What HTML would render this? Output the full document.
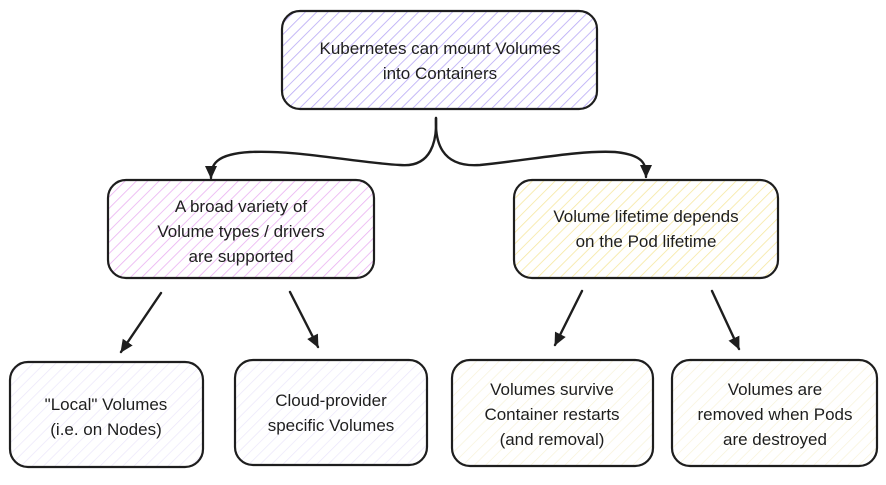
<!DOCTYPE html>
<html><head><meta charset="utf-8"><style>
html,body{margin:0;padding:0;background:#fff;}
svg text{font-family:"Liberation Sans",sans-serif;font-size:17px;fill:#1e1e1e;text-anchor:middle;}
</style></head><body>
<svg width="886" height="480" viewBox="0 0 886 480" xmlns="http://www.w3.org/2000/svg">
<defs>
<pattern id="pu" width="8" height="8" patternUnits="userSpaceOnUse" patternTransform="rotate(45)"><line x1="0" y1="0" x2="0" y2="8" stroke="#b7a8f5" stroke-width="1.6"/></pattern>
<pattern id="pk" width="8" height="8" patternUnits="userSpaceOnUse" patternTransform="rotate(45)"><line x1="0" y1="0" x2="0" y2="8" stroke="#eab0f2" stroke-width="1.6"/></pattern>
<pattern id="ye" width="8" height="8" patternUnits="userSpaceOnUse" patternTransform="rotate(45)"><line x1="0" y1="0" x2="0" y2="8" stroke="#f6e7a0" stroke-width="1.6"/></pattern>
<pattern id="fpu" width="8" height="8" patternUnits="userSpaceOnUse" patternTransform="rotate(45)"><line x1="0" y1="0" x2="0" y2="8" stroke="#ebe6fa" stroke-width="1.4"/></pattern>
<pattern id="fye" width="8" height="8" patternUnits="userSpaceOnUse" patternTransform="rotate(45)"><line x1="0" y1="0" x2="0" y2="8" stroke="#f7f2d8" stroke-width="1.4"/></pattern>
<marker id="ah" markerWidth="14" markerHeight="12" refX="12" refY="6" orient="auto" markerUnits="userSpaceOnUse"><polygon points="0,0 13,6 0,12" fill="#1e1e1e"/></marker>
</defs>
<g stroke="#1e1e1e" stroke-width="2.2">
<rect x="282" y="11" width="315" height="98" rx="18" fill="url(#pu)"/>
<rect x="108" y="180" width="266" height="98" rx="18" fill="url(#pk)"/>
<rect x="514" y="180" width="264" height="98" rx="18" fill="url(#ye)"/>
<rect x="10" y="362" width="193" height="105" rx="18" fill="url(#fpu)"/>
<rect x="235" y="360" width="192" height="105" rx="18" fill="url(#fpu)"/>
<rect x="452" y="360" width="201" height="106" rx="18" fill="url(#fye)"/>
<rect x="672" y="360" width="205" height="106" rx="18" fill="url(#fye)"/>
</g>
<g stroke="#1e1e1e" stroke-width="2.4" fill="none" stroke-linecap="round">
<path d="M436 118 C437 140 432 168 400 165 C350 162 300 150 250 152 C215 154 211 165 211 178" marker-end="url(#ah)"/>
<path d="M436 118 C435 140 440 168 480 165 C530 160 580 150 615 152 C645 155 646 165 646 177" marker-end="url(#ah)"/>
<path d="M161 293 L121 352" marker-end="url(#ah)"/>
<path d="M290 292 L318 347" marker-end="url(#ah)"/>
<path d="M582 291 L555 345" marker-end="url(#ah)"/>
<path d="M712 291 L739 349" marker-end="url(#ah)"/>
</g>
<text x="440" y="54">Kubernetes can mount Volumes</text>
<text x="440" y="79">into Containers</text>
<text x="241" y="212">A broad variety of</text>
<text x="241" y="237">Volume types / drivers</text>
<text x="241" y="262">are supported</text>
<text x="646" y="222">Volume lifetime depends</text>
<text x="646" y="247">on the Pod lifetime</text>
<text x="106" y="410">"Local" Volumes</text>
<text x="106" y="435">(i.e. on Nodes)</text>
<text x="331" y="406">Cloud-provider</text>
<text x="331" y="431">specific Volumes</text>
<text x="552" y="395">Volumes survive</text>
<text x="552" y="420">Container restarts</text>
<text x="552" y="445">(and removal)</text>
<text x="775" y="395">Volumes are</text>
<text x="775" y="420">removed when Pods</text>
<text x="775" y="445">are destroyed</text>
</svg>
</body></html>
